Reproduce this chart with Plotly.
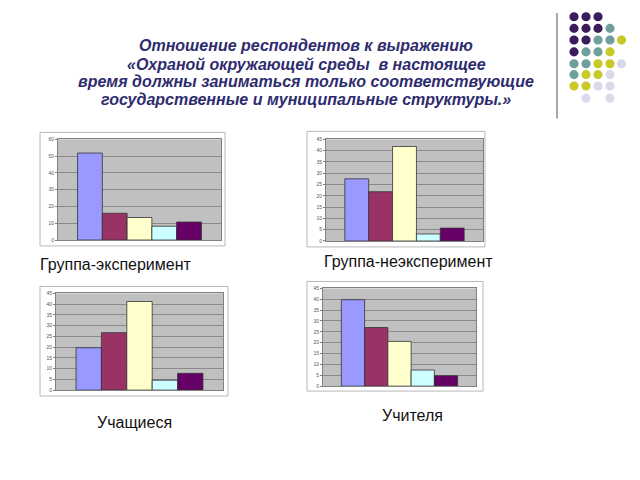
import plotly.graph_objects as go

W, H = 640, 480

# ---- data ----
series_names = ["Серия 1", "Серия 2", "Серия 3", "Серия 4", "Серия 5"]
series_colors = ["#9999FF", "#993366", "#FFFFCC", "#CCFFFF", "#660066"]
category = ["Ответ"]

group_experiment = [51.8, 15.9, 13.4, 8.2, 10.7]
group_nonexperiment = [27.5, 21.8, 41.8, 3.1, 5.7]
students = [19.7, 26.7, 41.2, 4.6, 7.8]
teachers = [39.8, 27.0, 20.6, 7.4, 4.8]

panel_titles = ["Группа-эксперимент", "Группа-неэксперимент", "Учащиеся", "Учителя"]
title_lines = [
    "Отношение респондентов к выражению",
    "«Охраной окружающей среды  в настоящее",
    "время должны заниматься только соответствующие",
    "государственные и муниципальные структуры.»",
]
y_max = [60, 45, 45, 45]
y_step = [10, 5, 5, 5]

# decorative dot grid (rows of colours, None = empty)
D, T, Y, L = "#3A1C5C", "#6E9F9C", "#C9C92A", "#D9D9EC"
dot_rows = [
    [D, D, D, None, None],
    [D, D, D, T, None],
    [D, D, T, T, Y],
    [D, T, T, Y, None],
    [T, T, Y, Y, L],
    [T, Y, Y, L, None],
    [Y, Y, L, L, None],
    [None, L, None, L, None],
]


def px(x):
    return x / W


def py(y):
    return 1 - y / H


# plot-area pixel boxes (x0, x1, y0, y1) and frame boxes
plot_boxes = [(58, 221, 138, 240), (326, 483, 138, 241), (56, 223, 294, 392), (323, 476, 289, 388)]
frame_boxes = [(40, 225, 131, 246), (307, 485, 130, 247), (40, 228, 287, 398), (307, 483, 282, 393)]
datasets = [group_experiment, group_nonexperiment, students, teachers]

fig = go.Figure()
shapes = []
annotations = []

for i, (vals, box) in enumerate(zip(datasets, plot_boxes)):
    xa = "x" if i == 0 else f"x{i+1}"
    ya = "y" if i == 0 else f"y{i+1}"
    for name, col, v in zip(series_names, series_colors, vals):
        fig.add_trace(go.Bar(
            x=category, y=[v], name=name, xaxis=xa, yaxis=ya,
            marker=dict(color=col, line=dict(color="#333333", width=0.8)),
            showlegend=False,
        ))
    x0, x1, y0, y1 = box
    xkey = "xaxis" if i == 0 else f"xaxis{i+1}"
    ykey = "yaxis" if i == 0 else f"yaxis{i+1}"
    fig.update_layout(**{
        xkey: dict(domain=[px(x0), px(x1)], anchor=ya, showticklabels=False,
                   showgrid=False, zeroline=False, showline=True, mirror=True,
                   linecolor="#808080", linewidth=1, range=[-0.5, 0.5], fixedrange=True),
        ykey: dict(domain=[py(y1), py(y0)], anchor=xa, range=[0, y_max[i]], dtick=y_step[i],
                   showgrid=True, gridcolor="#8A8A8A", gridwidth=1, zeroline=False,
                   showline=True, mirror=True, linecolor="#808080", linewidth=1,
                   ticks="outside", ticklen=2, tickcolor="#808080",
                   tickfont=dict(size=5, color="#555555", family="Liberation Sans, Arial")),
    })
    fx0, fx1, fy0, fy1 = frame_boxes[i]
    shapes.append(dict(type="rect", xref="paper", yref="paper", x0=px(fx0), x1=px(fx1),
                       y0=py(fy1), y1=py(fy0), line=dict(color="#B8B8B8", width=1),
                       fillcolor="rgba(0,0,0,0)", layer="below"))

# panel labels
label_pos = [(38, 265), (322, 262), (95, 425), (380, 418)]
for txt, (lx, ly) in zip(panel_titles, label_pos):
    annotations.append(dict(text=txt, x=px(lx), y=py(ly), xref="paper", yref="paper",
                            xanchor="left", yanchor="middle", showarrow=False,
                            font=dict(size=16, color="#111111", family="Liberation Sans, Arial")))

# title lines
for k, (line, ly) in enumerate(zip(title_lines, [43, 62, 80, 98])):
    annotations.append(dict(text=f"<b><i>{line}</i></b>", x=px(306), y=py(ly), xref="paper",
                            yref="paper", xanchor="center", yanchor="middle", showarrow=False,
                            font=dict(size=16, color="#2E2C6E", family="Liberation Sans, Arial")))

# decoration: vertical line + dot grid
shapes.append(dict(type="line", xref="paper", yref="paper", x0=px(557), x1=px(557),
                   y0=py(10), y1=py(117), line=dict(color="#8A8A8A", width=1.5)))
col_x = [574, 586, 598, 610, 621.5]
row_y = [14, 25.7, 37.5, 49.5, 61.5, 72.5, 84, 96.5]
r = 4.6
for ry, row in zip(row_y, dot_rows):
    for cx, c in zip(col_x, row):
        if c is None:
            continue
        shapes.append(dict(type="circle", xref="paper", yref="paper",
                           x0=px(cx - r), x1=px(cx + r), y0=py(ry + r), y1=py(ry - r),
                           fillcolor=c, line=dict(width=0)))

fig.update_layout(
    width=W, height=H, margin=dict(l=0, r=0, t=0, b=0),
    paper_bgcolor="white", plot_bgcolor="#C0C0C0",
    barmode="group", bargap=0.24, bargroupgap=0,
    shapes=shapes, annotations=annotations, showlegend=False,
)

fig.write_html("out.html", config={"displayModeBar": False},
               post_script="document.body.style.margin='0';document.body.style.overflow='hidden';")
